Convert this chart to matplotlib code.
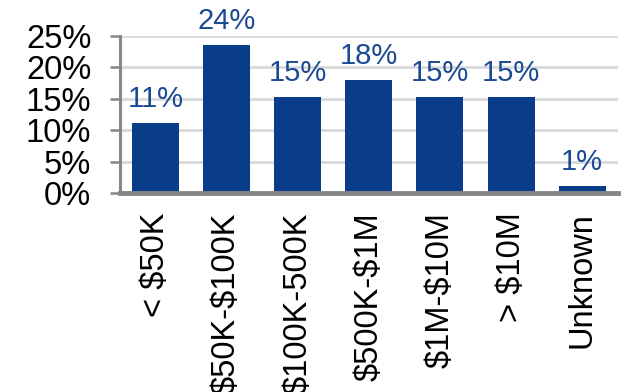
import matplotlib
matplotlib.use("Agg")
import matplotlib.pyplot as plt
from matplotlib.ticker import FuncFormatter

categories = ["< $50K", "$50K-$100K", "$100K-500K", "$500K-$1M", "$1M-$10M", "> $10M", "Unknown"]
shares = [11.2, 23.6, 15.3, 18.0, 15.3, 15.3, 1.1]
yticks = [0, 5, 10, 15, 20, 25]

bar_color = "#0a3d89"
label_color = "#1b4a94"
axis_gray = "#868686"
grid_gray = "#d9d9d9"

plt.rcParams["font.family"] = ["Liberation Sans", "DejaVu Sans"]
plt.rcParams["text.parse_math"] = False

fig = plt.figure(figsize=(6.24, 3.92), dpi=100)
ax = fig.add_axes([0.192, 0.508, 0.798, 0.400])

x = range(len(categories))
bars = ax.bar(x, shares, width=0.66, color=bar_color, zorder=3)

for xi, v in zip(x, shares):
    ax.text(xi, v + 1.6, f"{v:.0f}%", ha="center", va="bottom",
            fontsize=21, color=label_color, zorder=4)

ax.set_xlim(-0.5, len(categories) - 0.5)
ax.set_ylim(0, 25)
ax.set_yticks(yticks)
ax.yaxis.set_major_formatter(FuncFormatter(lambda v, p: f"{v:.0f}%"))
ax.set_xticks(list(x))
ax.set_xticklabels(categories, rotation=90, fontsize=23.5, va="top", ha="center")

ax.yaxis.grid(True, color=grid_gray, linewidth=2, zorder=0)
ax.set_axisbelow(True)

for side in ["top", "right"]:
    ax.spines[side].set_visible(False)
ax.spines["left"].set_color(axis_gray)
ax.spines["left"].set_linewidth(2.2)
ax.spines["bottom"].set_color(axis_gray)
ax.spines["bottom"].set_linewidth(3.5)
ax.spines["bottom"].set_zorder(5)

ax.tick_params(axis="y", length=7.5, width=1.8, color=axis_gray, labelsize=23.5, pad=13)
ax.tick_params(axis="x", length=0, pad=14)

fig.savefig("out.png", dpi=100)
